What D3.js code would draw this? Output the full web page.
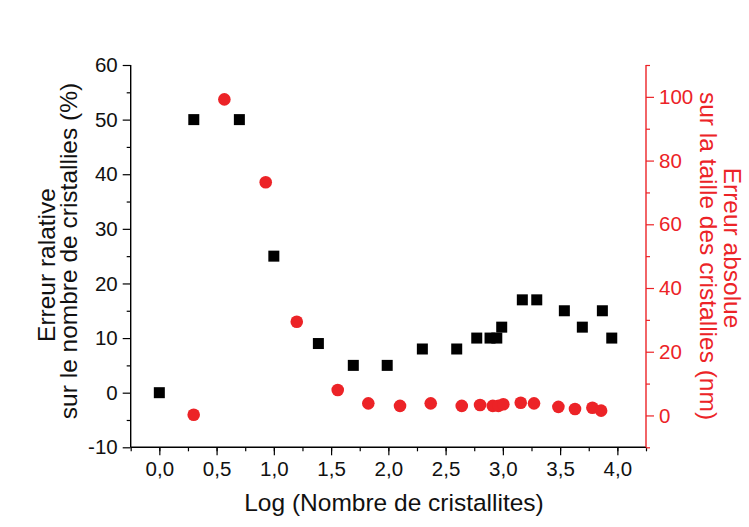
<!DOCTYPE html>
<html>
<head>
<meta charset="utf-8">
<script src="https://cdn.jsdelivr.net/npm/d3@7"></script>
<style>
  html, body { margin: 0; padding: 0; background: #fff; }
  svg { display: block; font-family: "Liberation Sans", Arial, sans-serif; }
</style>
</head>
<body>
<svg id="chart" width="749" height="527"></svg>
<script>
// ---- data ----
const blackX = [0, 0.301, 0.699, 1.0, 1.389, 1.694, 1.99, 2.297, 2.597, 2.772, 2.888, 2.947, 2.99, 3.17, 3.296, 3.537, 3.694, 3.869, 3.951];
const blackY = [0, 50, 50, 25, 9, 5, 5, 8, 8, 10, 10, 10, 12, 17, 17, 15, 12, 15, 10];
const redX = [0.30, 0.568, 0.929, 1.20, 1.558, 1.825, 2.102, 2.37, 2.641, 2.801, 2.912, 2.961, 3.004, 3.156, 3.272, 3.485, 3.63, 3.782, 3.858];
const redY = [0.2, 99.2, 73.2, 29.4, 8.0, 3.8, 3.0, 3.8, 3.0, 3.3, 3.0, 3.0, 3.5, 4.0, 3.8, 2.7, 2.0, 2.4, 1.5];
const xTicks = [0, 0.5, 1, 1.5, 2, 2.5, 3, 3.5, 4];
const yLeftTicks = [-10, 0, 10, 20, 30, 40, 50, 60];
const yRightTicks = [0, 20, 40, 60, 80, 100];
const xTitle = "Log (Nombre de cristallites)";
const yLeftTitle = ["Erreur ralative", "sur le nombre de cristallies (%)"];
const yRightTitle = ["Erreur absolue", "sur la taille des cristallies (nm)"];

const RED = "#ec2327";
const svg = d3.select("#chart");

const x = d3.scaleLinear().domain([-0.25, 4.25]).range([130.7, 646]);
const yL = d3.scaleLinear().domain([-10, 60]).range([447.3, 65]);
const yR = d3.scaleLinear().domain([-10, 110]).range([447.3, 65]);

const fmtX = d => d3.format(".1f")(d).replace(".", ",");
const fmtY = d => String(d);
const TF = 20.5;

// x axis
const gx = svg.append("g").attr("transform", `translate(0,${yL.range()[0]})`);
gx.call(d3.axisBottom(x).tickValues(d3.range(-0.25, 4.26, 0.25)).tickSize(4).tickFormat(""));
gx.call(g => g.select(".domain").remove());
const gx2 = svg.append("g").attr("transform", `translate(0,${yL.range()[0]})`);
gx2.call(d3.axisBottom(x).tickValues(xTicks).tickSize(8).tickPadding(6).tickFormat(fmtX));
gx2.selectAll("text").attr("font-size", TF).attr("fill", "#111").attr("dy", "0.71em");
gx2.select(".domain").attr("stroke", "#000").attr("stroke-width", 1.4);
svg.selectAll(".tick line").attr("stroke-width", 1.2);

// left axis
const gl = svg.append("g").attr("transform", `translate(${x.range()[0]},0)`);
gl.call(d3.axisLeft(yL).tickValues(d3.range(-5, 60, 10)).tickSize(4).tickFormat(""));
gl.call(g => g.select(".domain").remove());
const gl2 = svg.append("g").attr("transform", `translate(${x.range()[0]},0)`);
gl2.call(d3.axisLeft(yL).tickValues(yLeftTicks).tickSize(8).tickPadding(5).tickFormat(fmtY));
gl2.selectAll("text").attr("font-size", TF).attr("fill", "#111");
gl2.select(".domain").attr("stroke", "#000").attr("stroke-width", 1.4);
gl.selectAll(".tick line").attr("stroke-width", 1.2);
gl2.selectAll(".tick line").attr("stroke-width", 1.2);

// right axis
const gr = svg.append("g").attr("transform", `translate(${x.range()[1]},0)`);
gr.call(d3.axisRight(yR).tickValues([-10, 10, 30, 50, 70, 90, 110]).tickSize(4).tickFormat(""));
gr.call(g => g.select(".domain").remove());
const gr2 = svg.append("g").attr("transform", `translate(${x.range()[1]},0)`);
gr2.call(d3.axisRight(yR).tickValues(yRightTicks).tickSize(8).tickPadding(5).tickFormat(fmtY));
gr2.selectAll("text").attr("font-size", TF).attr("fill", RED);
gr2.select(".domain").attr("stroke", RED).attr("stroke-width", 1.4);
gr.selectAll(".tick line").attr("stroke", RED).attr("stroke-width", 1.2);
gr2.selectAll(".tick line").attr("stroke", RED).attr("stroke-width", 1.2);
gl2.select(".domain").attr("d", `M0,${yL.range()[1]}V${yL.range()[0]}`);
gr2.select(".domain").attr("d", `M0,${yR.range()[1]}V${yR.range()[0]}`);
gx2.select(".domain").attr("d", `M${x.range()[0]},0H${x.range()[1]}`);

// data marks
const sq = 11;
svg.append("g").selectAll("rect")
  .data(blackX.map((d, i) => [d, blackY[i]]))
  .join("rect")
  .attr("x", d => x(d[0]) - sq / 2)
  .attr("y", d => yL(d[1]) - sq / 2)
  .attr("width", sq).attr("height", sq)
  .attr("fill", "#000");

svg.append("g").selectAll("circle")
  .data(redX.map((d, i) => [d, redY[i]]))
  .join("circle")
  .attr("cx", d => x(d[0]))
  .attr("cy", d => yR(d[1]))
  .attr("r", 6.3)
  .attr("fill", RED);

// titles
svg.append("text")
  .attr("x", 394).attr("y", 511)
  .attr("text-anchor", "middle")
  .attr("font-size", 24.5).attr("fill", "#111")
  .text(xTitle);

svg.append("text")
  .attr("transform", "translate(55,265) rotate(-90)")
  .attr("text-anchor", "middle")
  .attr("font-size", 24.5).attr("fill", "#111")
  .text(yLeftTitle[0]);
svg.append("text")
  .attr("transform", "translate(77,251) rotate(-90)")
  .attr("text-anchor", "middle")
  .attr("font-size", 24.5).attr("fill", "#111")
  .text(yLeftTitle[1]);

svg.append("text")
  .attr("transform", "translate(724,248) rotate(90)")
  .attr("text-anchor", "middle")
  .attr("font-size", 24.5).attr("fill", RED)
  .text(yRightTitle[0]);
svg.append("text")
  .attr("transform", "translate(700,256) rotate(90)")
  .attr("text-anchor", "middle")
  .attr("font-size", 24.5).attr("fill", RED)
  .text(yRightTitle[1]);
</script>
</body>
</html>
